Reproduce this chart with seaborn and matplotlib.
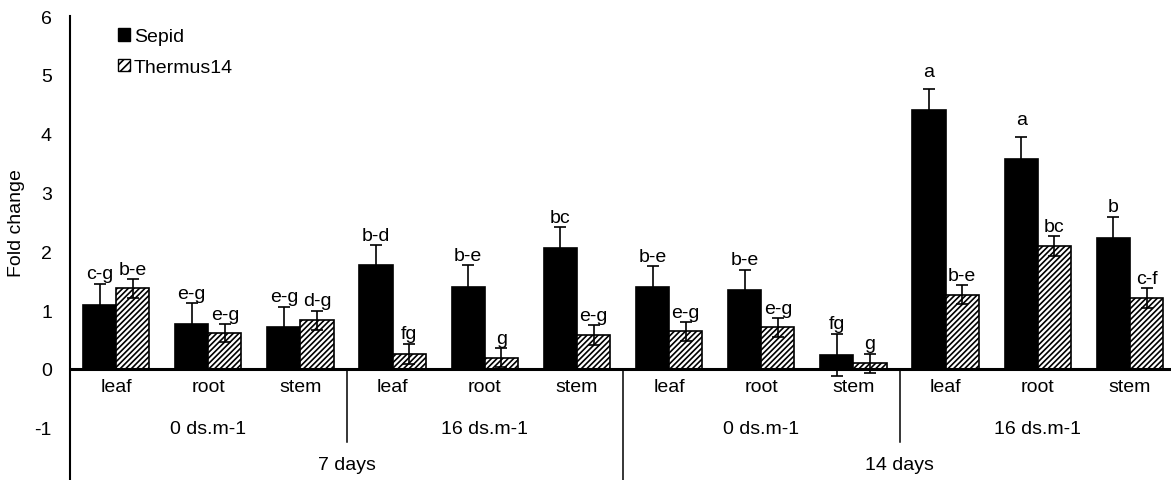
import matplotlib
matplotlib.use("Agg")
import matplotlib.pyplot as plt
from matplotlib.patches import Patch
import pandas as pd
import seaborn as sns

# 데이터
days = ["7 days", "14 days"]
salinity = ["0 ds.m-1", "16 ds.m-1"]
tissues = ["leaf", "root", "stem"]
cultivars = ["Sepid", "Thermus14"]

sepid = [1.09, 0.77, 0.71, 1.76, 1.39, 2.06, 1.39, 1.35, 0.24, 4.40, 3.57, 2.23]
sepid_err = [0.36, 0.35, 0.35, 0.35, 0.37, 0.35, 0.36, 0.34, 0.36, 0.36, 0.37, 0.36]
thermus = [1.37, 0.61, 0.83, 0.26, 0.19, 0.57, 0.64, 0.71, 0.10, 1.26, 2.09, 1.21]
thermus_err = [0.16, 0.15, 0.16, 0.17, 0.16, 0.17, 0.16, 0.16, 0.16, 0.16, 0.17, 0.17]

sepid_letters = ["c-g", "e-g", "e-g", "b-d", "b-e", "bc", "b-e", "b-e", "fg", "a", "a", "b"]
thermus_letters = ["b-e", "e-g", "d-g", "fg", "g", "e-g", "e-g", "e-g", "g", "b-e", "bc", "c-f"]

# 카테고리 조합 (일수 x 염도 x 조직)
combos = [(d, s, t) for d in days for s in salinity for t in tissues]
labels = [f"{d}|{s}|{t}" for d, s, t in combos]

df = pd.DataFrame({
    "group": labels * 2,
    "value": sepid + thermus,
    "err": sepid_err + thermus_err,
    "letter": sepid_letters + thermus_letters,
    "cultivar": ["Sepid"] * 12 + ["Thermus14"] * 12,
})
print(df.head())

plt.rcParams["font.family"] = ["Liberation Sans", "DejaVu Sans"]
plt.rcParams["hatch.linewidth"] = 1.2
FS = 14

fig = plt.figure(figsize=(11.71, 4.81), dpi=100)
ax = fig.add_axes([0.0598, -0.0137, 0.9445, 0.978])

sns.barplot(
    data=df, x="group", y="value", hue="cultivar", order=labels,
    hue_order=cultivars, palette={"Sepid": "black", "Thermus14": "white"},
    width=0.72, edgecolor="black", linewidth=1.2, errorbar=None,
    legend=False, ax=ax,
)
bar_containers = list(ax.containers)

# 빗금 패턴
HATCH = "//////"
for p in bar_containers[1]:
    p.set_hatch(HATCH)

# 오차 막대 + 유의성 문자
for ci, cont in enumerate(bar_containers):
    sub = df[df["cultivar"] == cultivars[ci]].reset_index(drop=True)
    for i, p in enumerate(cont):
        xc = p.get_x() + p.get_width() / 2
        h = p.get_height()
        e = sub.loc[i, "err"]
        ax.errorbar(xc, h, yerr=e, fmt="none", ecolor="black",
                    elinewidth=1.2, capsize=4, capthick=1.2, zorder=5)
        extra = 0.14 if sub.loc[i, "letter"] == "a" else 0
        ax.text(xc, h + e + 0.09 + extra, sub.loc[i, "letter"],
                ha="center", va="baseline", fontsize=FS)

ax.set_xlim(-0.5, 11.5)
ax.set_ylim(-2, 6)
ax.set_yticks(range(-1, 7))
ax.set_yticklabels([str(v) for v in range(-1, 7)], fontsize=FS)
ax.tick_params(axis="y", length=0, pad=13)
ax.set_xticks([])
ax.set_xlabel("")
ax.set_ylabel("Fold change", fontsize=FS)
ax.yaxis.set_label_coords(-0.0407, 0.562)

for side in ["top", "right", "bottom"]:
    ax.spines[side].set_visible(False)
ax.spines["left"].set_linewidth(1.5)
ax.axhline(0, color="black", lw=2.2, zorder=6)

# 계층형 x축 라벨
for i, (d, s, t) in enumerate(combos):
    ax.text(i, -0.29, t, ha="center", va="center", fontsize=FS)
for k in range(4):
    ax.text(k * 3 + 1, -1.02, salinity[k % 2], ha="center", va="center", fontsize=FS)
for k in range(2):
    ax.text(k * 6 + 2.5, -1.63, days[k], ha="center", va="center", fontsize=FS)
for xs in [2.5, 8.5]:
    ax.plot([xs, xs], [0, -1.24], color="black", lw=1.1, clip_on=False)
ax.plot([5.5, 5.5], [0, -2.2], color="black", lw=1.1, clip_on=False)

# 범례
handles = [Patch(facecolor="black", edgecolor="black"),
           Patch(facecolor="white", edgecolor="black", hatch="////")]
ax.legend(handles, cultivars, loc="upper left",
          bbox_to_anchor=(118 / 1171, 1 - 29 / 481),
          bbox_transform=fig.transFigure, frameon=False, fontsize=FS,
          handlelength=0.62, handleheight=0.62, handletextpad=0.2,
          labelspacing=0.7, borderpad=0, borderaxespad=0)

fig.savefig("out.png", dpi=100)
